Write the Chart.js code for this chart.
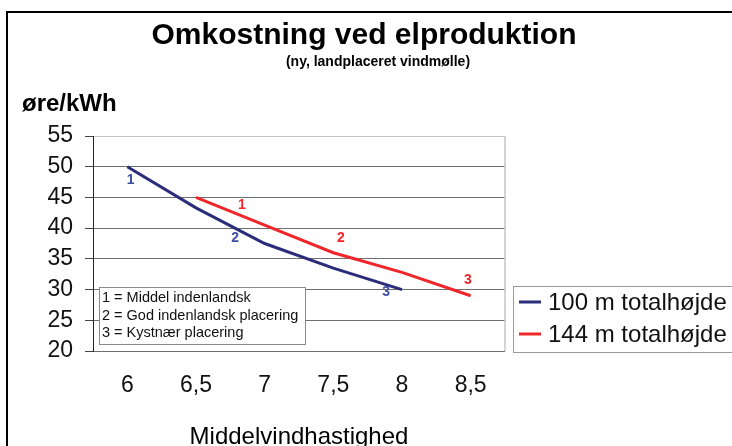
<!DOCTYPE html>
<html>
<head>
<meta charset="utf-8">
<script src="https://cdn.jsdelivr.net/npm/chart.js@4"></script>
<style>
  html, body { margin: 0; padding: 0; background: #fff; }
  canvas { display: block; }
</style>
</head>
<body>
<canvas id="graf" width="732" height="446"></canvas>
<script>
// data
var vindhastighed = ["6", "6,5", "7", "7,5", "8", "8,5"];
var hoejde100 = [50, 43.3, 37.5, 33.5, 30, null];
var hoejde144 = [null, 45, 40.5, 36, 32.8, 29];
var serieNavne = ["100 m totalhøjde", "144 m totalhøjde"];
var yMin = 20, yMax = 55, yStep = 5;

// numbered notes next to the lines: [text, category position, value]
var noter100 = [["1", 0.05, 47.8], ["2", 1.57, 38.3], ["3", 3.77, 29.6]];
var noter144 = [["1", 1.67, 43.8], ["2", 3.11, 38.3], ["3", 4.96, 31.5]];
var forklaring = ["1 = Middel indenlandsk", "2 = God indenlandsk placering", "3 = Kystnær placering"];

var FONT = "'Liberation Sans', Arial, sans-serif";
var BLAA = "#2b2d7a";
var ROED = "#f0262b";

var tegnTekst = {
    id: "tegnTekst",
    beforeDraw: function (chart) {
        var c = chart.ctx;
        c.save();
        // outer frame
        c.strokeStyle = "#000";
        c.lineWidth = 2;
        c.beginPath();
        c.moveTo(7, 446);
        c.lineTo(7, 12);
        c.lineTo(732, 12);
        c.stroke();

        c.fillStyle = "#000";
        c.textAlign = "center";
        c.textBaseline = "alphabetic";
        c.font = "bold 30px " + FONT;
        c.fillText("Omkostning ved elproduktion", 364, 44);
        c.font = "bold 14px " + FONT;
        c.fillText("(ny, landplaceret vindmølle)", 378, 66);
        c.textAlign = "left";
        c.font = "bold 24px " + FONT;
        c.fillText("øre/kWh", 22, 111);
        c.textAlign = "center";
        c.font = "24px " + FONT;
        c.fillText("Middelvindhastighed", 299, 444);
        c.restore();
    },
    afterDatasetsDraw: function (chart) {
        var c = chart.ctx;
        var a = chart.chartArea;
        var xs = chart.scales.x, ys = chart.scales.y;
        c.save();
        // plot border right side
        c.strokeStyle = "#c4c4c4";
        c.lineWidth = 1.5;
        c.beginPath();
        c.moveTo(a.right, a.top);
        c.lineTo(a.right, a.bottom);
        c.stroke();

        // numbers at the lines
        c.font = "bold 14px " + FONT;
        c.textAlign = "center";
        c.textBaseline = "middle";
        c.fillStyle = "#3d4fa6";
        noter100.forEach(function (n) {
            c.fillText(n[0], xs.getPixelForValue(n[1]), ys.getPixelForValue(n[2]));
        });
        c.fillStyle = ROED;
        noter144.forEach(function (n) {
            c.fillText(n[0], xs.getPixelForValue(n[1]), ys.getPixelForValue(n[2]));
        });

        // explanation box
        c.fillStyle = "#fff";
        c.fillRect(99.5, 287.5, 206, 57);
        c.strokeStyle = "#8a8a8a";
        c.lineWidth = 1;
        c.strokeRect(99.5, 287.5, 206, 57);
        c.fillStyle = "#111";
        c.textAlign = "left";
        c.font = "14.5px " + FONT;
        for (var i = 0; i < forklaring.length; i++) {
            c.fillText(forklaring[i], 102, 298 + i * 17.5);
        }

        // legend
        c.fillStyle = "#fff";
        c.fillRect(513.5, 286.5, 240, 66);
        c.strokeStyle = "#9a9a9a";
        c.strokeRect(513.5, 286.5, 240, 66);
        c.font = "24px " + FONT;
        chart.data.datasets.forEach(function (ds, k) {
            var y = 302 + k * 32;
            c.strokeStyle = ds.borderColor;
            c.lineWidth = 3;
            c.beginPath();
            c.moveTo(519, y);
            c.lineTo(541, y);
            c.stroke();
            c.fillStyle = "#111";
            c.fillText(ds.label, 548, y + 1);
        });
        c.restore();
    }
};

new Chart(document.getElementById("graf"), {
    type: "line",
    data: {
        labels: vindhastighed,
        datasets: [{
            label: serieNavne[0],
            data: hoejde100,
            borderColor: BLAA,
            borderWidth: 3,
            pointRadius: 0,
            tension: 0
        }, {
            label: serieNavne[1],
            data: hoejde144,
            borderColor: ROED,
            borderWidth: 3,
            pointRadius: 0,
            tension: 0
        }]
    },
    options: {
        responsive: false,
        animation: false,
        layout: { padding: { top: 136, right: 227, left: 0, bottom: 0 } },
        plugins: {
            legend: { display: false },
            tooltip: { enabled: false }
        },
        scales: {
            x: {
                offset: true,
                grid: { display: false },
                border: { display: false },
                ticks: {
                    color: "#111",
                    font: { family: FONT, size: 23 },
                    padding: 13,
                    maxRotation: 0
                },
                afterFit: function (s) { s.height = 95; }
            },
            y: {
                min: yMin,
                max: yMax,
                grid: {
                    color: function (ctx) {
                        return ctx.tick && ctx.tick.value === yMax ? "#c4c4c4" : "#6e6e6e";
                    },
                    tickColor: "#444",
                    tickLength: 8,
                    lineWidth: 1
                },
                border: { color: "#222", width: 1 },
                ticks: {
                    stepSize: yStep,
                    color: "#111",
                    font: { family: FONT, size: 23 },
                    padding: 12
                },
                afterFit: function (s) { s.width = 93; }
            }
        }
    },
    plugins: [tegnTekst]
});
</script>
</body>
</html>
